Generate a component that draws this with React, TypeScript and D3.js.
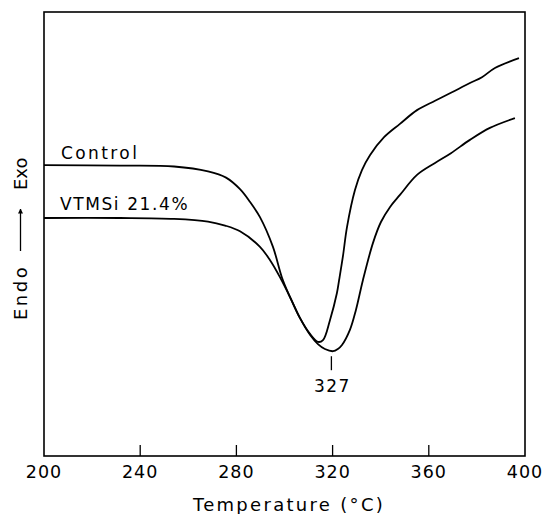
import React from "react";
import * as d3 from "d3";

const WIDTH = 545;
const HEIGHT = 514;

const xTicks = [240, 280, 320, 360];
const xTickLabels = ["200", "240", "280", "320", "360", "400"];
const xLabelValues = [200, 240, 280, 320, 360, 400];

const controlTemp = [200, 231.6, 254.1, 268.2, 275.7, 281.5, 285.7, 289.8, 295.2, 299.0, 302.3, 306.4, 310.6, 313.9, 316.0, 318.9, 321.8, 322.7, 324.3, 326.0, 329.3, 332.2, 335.6, 341.4, 348.0, 355.1, 362.6, 369.2, 377.1, 382.1, 387.5, 397.5];
const controlHeat = [65.5, 65.4, 65.2, 64.1, 62.7, 60.1, 57.2, 53.8, 47.1, 40.1, 35.8, 31.1, 27.5, 25.7, 26.1, 30.6, 36.7, 39.6, 45.0, 51.6, 59.9, 64.4, 67.8, 71.8, 74.8, 77.9, 80.0, 81.8, 84.0, 85.3, 87.4, 89.6];

const vtmsiTemp = [200, 231.6, 254.1, 268.2, 275.3, 281.5, 289.8, 294.0, 298.1, 302.3, 306.4, 310.6, 313.9, 316.8, 320.2, 322.2, 323.9, 327.2, 329.7, 332.6, 336.8, 340.1, 343.9, 348.0, 355.1, 362.6, 369.2, 377.1, 385.4, 395.8];
const vtmsiHeat = [53.6, 53.6, 53.4, 52.8, 51.9, 50.6, 47.1, 44.1, 40.3, 35.8, 31.1, 27.3, 25.2, 24.1, 23.6, 24.1, 25.0, 28.4, 32.9, 39.6, 48.0, 52.7, 56.1, 58.8, 63.3, 66.0, 68.2, 71.2, 73.9, 76.1];

const seriesNames = ["Control", "VTMSi 21.4%"];
const peakTemp = 319.5;
const peakLabel = "327";

const FONT = "'DejaVu Sans', sans-serif";

export default function App() {
  const left = 44, right = 525, top = 12, bottom = 456;
  const x = d3.scaleLinear().domain([200, 400]).range([left, right]);
  const y = d3.scaleLinear().domain([0, 100]).range([bottom, top]);

  const line = d3
    .line<[number, number]>()
    .x((d) => x(d[0]))
    .y((d) => y(d[1]))
    .curve(d3.curveCatmullRom.alpha(0.5));

  const controlPts = controlTemp.map((t, i) => [t, controlHeat[i]] as [number, number]);
  const vtmsiPts = vtmsiTemp.map((t, i) => [t, vtmsiHeat[i]] as [number, number]);

  const peakIdx = vtmsiHeat.indexOf(d3.min(vtmsiHeat) as number);
  const peakY = y(vtmsiHeat[peakIdx]);

  return (
    <svg
      width={WIDTH}
      height={HEIGHT}
      style={{ position: "absolute", left: 0, top: 0, background: "#fff" }}
      fontFamily={FONT}
    >
      <defs>
        <marker id="ah" viewBox="0 0 10 10" refX="9" refY="5" markerWidth="5" markerHeight="7" orient="auto" markerUnits="userSpaceOnUse">
          <path d="M0,0 L10,5 L0,10 z" fill="#000" />
        </marker>
      </defs>
      <rect x={left} y={top} width={right - left} height={bottom - top} fill="none" stroke="#000" strokeWidth={1.6} />
      {xTicks.map((t) => (
        <line key={t} x1={x(t)} x2={x(t)} y1={bottom} y2={bottom - 11} stroke="#000" strokeWidth={1.3} />
      ))}
      {xLabelValues.map((t, i) => (
        <text key={t} x={x(t)} y={478} textAnchor="middle" fontSize={17.5} letterSpacing={1}>
          {xTickLabels[i]}
        </text>
      ))}
      <text x={289} y={511} textAnchor="middle" fontSize={18} letterSpacing={2.3}>
        Temperature (°C)
      </text>
      <g transform="translate(27,0)">
        <text transform="translate(0,320) rotate(-90)" fontSize={18} letterSpacing={2.5}>Endo</text>
        <text transform="translate(0,190) rotate(-90)" fontSize={18} letterSpacing={0}>Exo</text>
      </g>
      <line x1={20.5} x2={20.5} y1={251} y2={209} stroke="#000" strokeWidth={1.3} markerEnd="url(#ah)" />

      <path d={line(controlPts) || ""} fill="none" stroke="#000" strokeWidth={1.8} />
      <path d={line(vtmsiPts) || ""} fill="none" stroke="#000" strokeWidth={1.8} />

      <text x={61} y={159} fontSize={17} letterSpacing={2.4}>{seriesNames[0]}</text>
      <text x={60} y={210} fontSize={17} letterSpacing={1.6}>{seriesNames[1]}</text>

      <line x1={x(peakTemp)} x2={x(peakTemp)} y1={peakY + 5} y2={peakY + 19} stroke="#000" strokeWidth={1.3} />
      <text x={x(peakTemp) + 1} y={392} textAnchor="middle" fontSize={17} letterSpacing={1.5}>{peakLabel}</text>
    </svg>
  );
}
